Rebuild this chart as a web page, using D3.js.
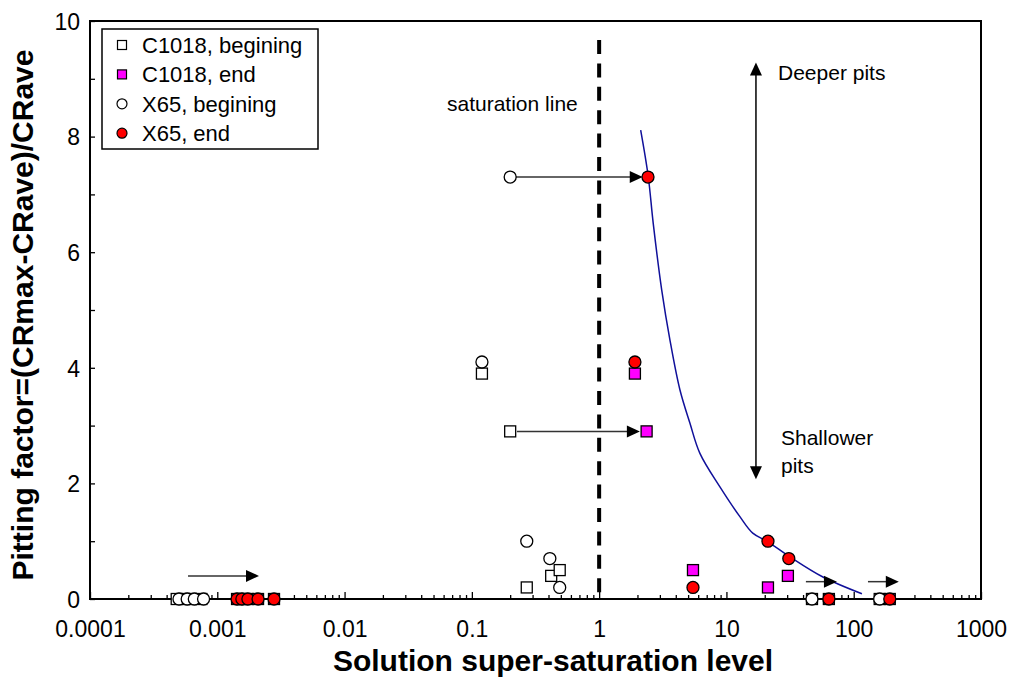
<!DOCTYPE html>
<html>
<head>
<meta charset="utf-8">
<script src="https://cdn.jsdelivr.net/npm/d3@7"></script>
<style>
  html, body { margin: 0; padding: 0; background: #fff; }
  svg { display: block; }
  text { font-family: "Liberation Sans", Arial, sans-serif; fill: #000; }
</style>
</head>
<body>
<svg id="chart" width="1011" height="679"></svg>
<script>
// ---- data ----
const xTickValues = [0.0001, 0.001, 0.01, 0.1, 1, 10, 100, 1000];
const xTickLabels = ["0.0001", "0.001", "0.01", "0.1", "1", "10", "100", "1000"];
const yTickValues = [0, 1, 2, 3, 4, 5, 6, 7, 8, 9, 10];
const yTickLabels = ["0", "", "2", "", "4", "", "6", "", "8", "", "10"];

// C1018, begining
const c1018BeginX = [0.00048, 0.00055, 0.00062, 0.00075, 0.12, 0.2, 0.27, 0.42, 0.49, 47, 160];
const c1018BeginY = [0, 0, 0, 0, 3.9, 2.9, 0.2, 0.4, 0.5, 0, 0];
// C1018, end
const c1018EndX = [0.00143, 0.00156, 0.00174, 0.00209, 0.00279, 1.91, 2.36, 5.46, 21.2, 30.4, 63.8, 192];
const c1018EndY = [0, 0, 0, 0, 0, 3.9, 2.9, 0.5, 0.2, 0.4, 0, 0];
// X65, begining
const x65BeginX = [0.0005, 0.00058, 0.00066, 0.00078, 0.12, 0.2, 0.27, 0.41, 0.49, 47, 160];
const x65BeginY = [0, 0, 0, 0, 4.1, 7.3, 1.0, 0.7, 0.2, 0, 0];
// X65, end
const x65EndX = [0.00143, 0.00156, 0.00174, 0.00209, 0.00279, 1.91, 2.42, 5.46, 21.2, 30.9, 63.8, 192];
const x65EndY = [0, 0, 0, 0, 0, 4.1, 7.3, 0.2, 1.0, 0.7, 0, 0];

// trend curve through the X65 end points
const trendX = [2.12, 2.43, 2.66, 3.10, 3.60, 4.31, 5.17, 6.19, 8.89, 12.8, 16.1, 21.2, 31.5, 57.3, 116];
const trendY = [8.11, 7.31, 6.5, 5.35, 4.48, 3.62, 3.04, 2.52, 1.94, 1.42, 1.14, 0.99, 0.73, 0.38, 0.09];

// horizontal shift arrows: start x, tip x, level
const arrowX1 = [0.215, 0.226, 0.000589, 42.1, 129.4];
const arrowX2 = [2.2, 2.09, 0.002126, 73.8, 226];
const arrowY = [7.3, 2.9, 0.4, 0.3, 0.3];

const saturationX = 1;
const depthArrowX = 17.06;
const depthArrowY = [2.07, 9.28];

// ---- layout ----
const svg = d3.select("#chart");
const plotLeft = 90, plotRight = 981, plotTop = 21, plotBottom = 599;
const x = d3.scaleLog().domain([1e-4, 1e3]).range([plotLeft, plotRight]);
const y = d3.scaleLinear().domain([0, 10]).range([plotBottom, plotTop]);

const tickFont = 23;

// minor x ticks (2..9 in each decade)
const minorX = [];
for (let e = -4; e < 3; e++) for (let m = 2; m <= 9; m++) minorX.push(m * Math.pow(10, e));

const gMinor = svg.append("g").attr("transform", `translate(0,${plotBottom})`)
  .call(d3.axisBottom(x).tickValues(minorX).tickSize(-4).tickSizeOuter(0).tickFormat(""));
gMinor.select(".domain").remove();
gMinor.selectAll("line").attr("stroke", "#000").attr("stroke-width", 1.3);

const gX = svg.append("g").attr("transform", `translate(0,${plotBottom})`)
  .call(d3.axisBottom(x).tickValues(xTickValues).tickSize(-7).tickSizeOuter(0).tickPadding(38)
    .tickFormat((d, i) => xTickLabels[i]));
gX.select(".domain").remove();
gX.selectAll("line").attr("stroke", "#000").attr("stroke-width", 1.3);
gX.selectAll("text").attr("font-size", tickFont).attr("dy", 0).attr("font-family", "Liberation Sans, Arial, sans-serif");

const gY = svg.append("g").attr("transform", `translate(${plotLeft},0)`)
  .call(d3.axisLeft(y).tickValues(yTickValues).tickSize(-5).tickSizeOuter(0).tickPadding(10)
    .tickFormat((d, i) => yTickLabels[i]));
gY.select(".domain").remove();
gY.selectAll("line").attr("stroke", "#000").attr("stroke-width", 1.3);
gY.selectAll("text").attr("font-size", tickFont).attr("dy", "0.36em").attr("font-family", "Liberation Sans, Arial, sans-serif");

// plot frame
svg.append("rect")
  .attr("x", plotLeft).attr("y", plotTop).attr("width", plotRight - plotLeft).attr("height", plotBottom - plotTop)
  .attr("fill", "none").attr("stroke", "#000").attr("stroke-width", 2);

// saturation line
svg.append("line")
  .attr("x1", x(saturationX)).attr("x2", x(saturationX))
  .attr("y1", 40).attr("y2", y(0))
  .attr("stroke", "#000").attr("stroke-width", 4).attr("stroke-dasharray", "14,9.4");

// trend curve
const trend = trendX.map((v, i) => [v, trendY[i]]);
svg.append("path")
  .datum(trend)
  .attr("d", d3.line().x(d => x(d[0])).y(d => y(d[1])).curve(d3.curveCatmullRom.alpha(0.5)))
  .attr("fill", "none").attr("stroke", "#10109a").attr("stroke-width", 1.5);

// shift arrows
const arrows = arrowX1.map((v, i) => ({ x1: v, x2: arrowX2[i], y: arrowY[i] }));
const headLen = 13, headHalf = 6;
svg.append("g").selectAll("line").data(arrows).join("line")
  .attr("x1", d => x(d.x1)).attr("x2", d => x(d.x2) - headLen + 1)
  .attr("y1", d => y(d.y)).attr("y2", d => y(d.y))
  .attr("stroke", "#333").attr("stroke-width", 1.5);
svg.append("g").selectAll("path").data(arrows).join("path")
  .attr("d", d => {
    const tx = x(d.x2), ty = y(d.y);
    return `M${tx},${ty}L${tx - headLen},${ty - headHalf}L${tx - headLen},${ty + headHalf}Z`;
  })
  .attr("fill", "#000");

// deeper / shallower double arrow
const dax = x(depthArrowX), dy0 = y(depthArrowY[0]), dy1 = y(depthArrowY[1]);
svg.append("line").attr("x1", dax).attr("x2", dax).attr("y1", dy0 - 12).attr("y2", dy1 + 12)
  .attr("stroke", "#000").attr("stroke-width", 1.5);
svg.append("path").attr("d", `M${dax},${dy1}L${dax - 6},${dy1 + 13}L${dax + 6},${dy1 + 13}Z`).attr("fill", "#000");
svg.append("path").attr("d", `M${dax},${dy0}L${dax - 6},${dy0 - 13}L${dax + 6},${dy0 - 13}Z`).attr("fill", "#000");

// markers
const sq = 11, rad = 6;
function squares(xs, ys, fill) {
  svg.append("g").selectAll("rect").data(xs.map((v, i) => [v, ys[i]])).join("rect")
    .attr("x", d => x(d[0]) - sq / 2).attr("y", d => y(d[1]) - sq / 2)
    .attr("width", sq).attr("height", sq)
    .attr("fill", fill).attr("stroke", "#000").attr("stroke-width", 1.3);
}
function circles(xs, ys, fill) {
  svg.append("g").selectAll("circle").data(xs.map((v, i) => [v, ys[i]])).join("circle")
    .attr("cx", d => x(d[0])).attr("cy", d => y(d[1])).attr("r", rad)
    .attr("fill", fill).attr("stroke", "#000").attr("stroke-width", 1.3);
}
squares(c1018BeginX, c1018BeginY, "#fff");
squares(c1018EndX, c1018EndY, "#ff00ff");
circles(x65BeginX, x65BeginY, "#fff");
circles(x65EndX, x65EndY, "#ff0000");

// annotations
const noteFont = 21;
svg.append("text").attr("x", 447).attr("y", 111).attr("font-size", noteFont).text("saturation line");
svg.append("text").attr("x", 778).attr("y", 80).attr("font-size", noteFont).text("Deeper pits");
svg.append("text").attr("x", 781).attr("y", 445).attr("font-size", noteFont).text("Shallower");
svg.append("text").attr("x", 781).attr("y", 473).attr("font-size", noteFont).text("pits");

// legend
const legendNames = ["C1018, begining", "C1018, end", "X65, begining", "X65, end"];
const legendShapes = ["square", "square", "circle", "circle"];
const legendFills = ["#fff", "#ff00ff", "#fff", "#ff0000"];
const lg = svg.append("g");
lg.append("rect").attr("x", 102).attr("y", 29).attr("width", 216).attr("height", 120)
  .attr("fill", "#fff").attr("stroke", "#000").attr("stroke-width", 1.5);
legendNames.forEach((name, i) => {
  const cy = 45 + i * 29.4;
  if (legendShapes[i] === "square") {
    lg.append("rect").attr("x", 122 - 4.5).attr("y", cy - 4.5).attr("width", 9).attr("height", 9)
      .attr("fill", legendFills[i]).attr("stroke", "#000").attr("stroke-width", 1.2);
  } else {
    lg.append("circle").attr("cx", 122).attr("cy", cy).attr("r", 5)
      .attr("fill", legendFills[i]).attr("stroke", "#000").attr("stroke-width", 1.2);
  }
  lg.append("text").attr("x", 142).attr("y", cy + 8).attr("font-size", 22).text(name);
});

// axis titles
svg.append("text").attr("x", 553).attr("y", 671).attr("text-anchor", "middle")
  .attr("font-size", 30).attr("font-weight", "bold").text("Solution super-saturation level");
svg.append("text").attr("transform", `translate(33,315) rotate(-90)`).attr("text-anchor", "middle")
  .attr("font-size", 30).attr("font-weight", "bold").text("Pitting factor=(CRmax-CRave)/CRave");
</script>
</body>
</html>
